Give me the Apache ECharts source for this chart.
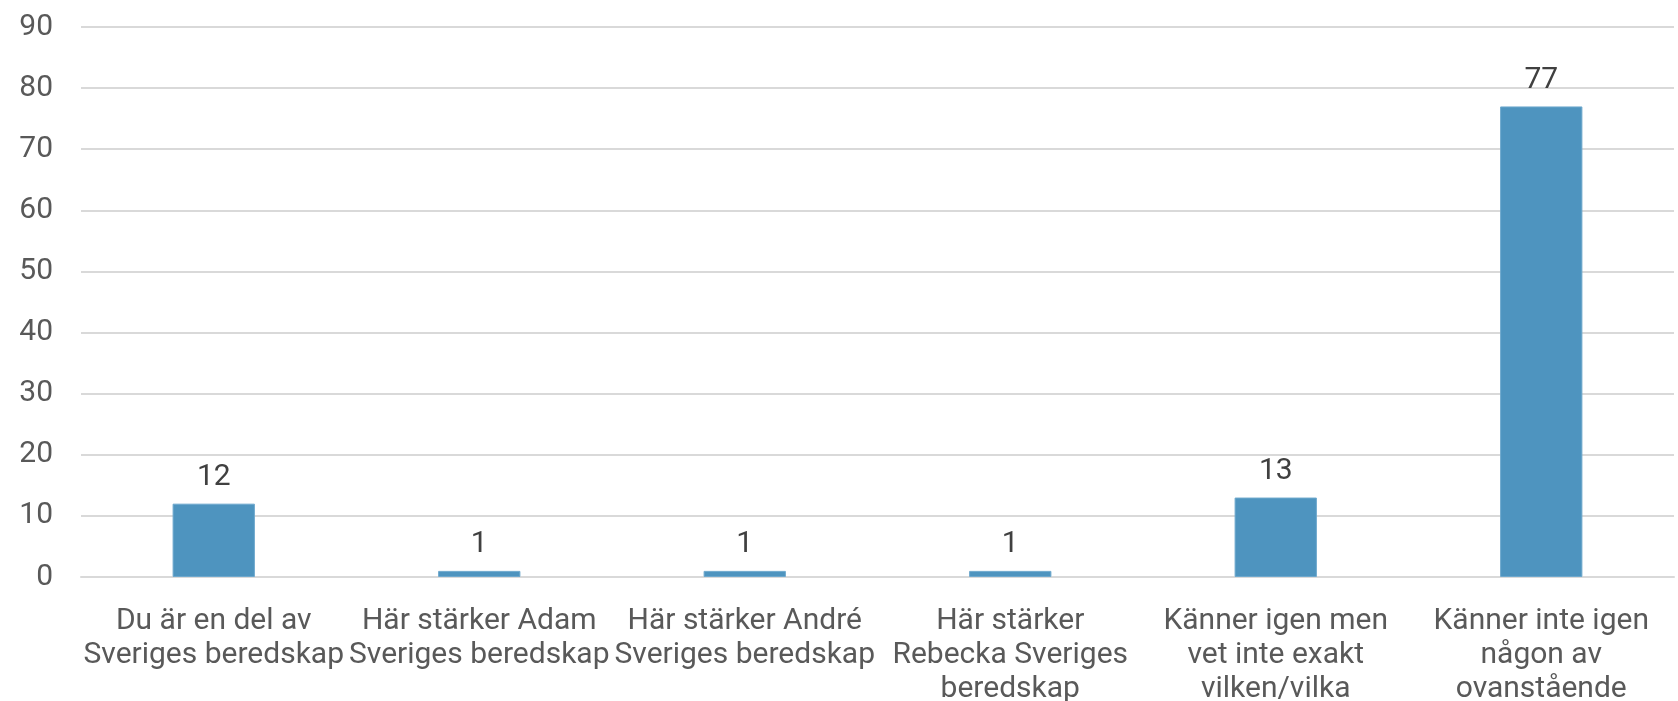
<!DOCTYPE html>
<html>
<head>
<meta charset="utf-8">
<script src="https://cdn.jsdelivr.net/npm/echarts@6/dist/echarts.min.js"></script>
<style>
  html, body { margin: 0; padding: 0; background: #ffffff; overflow: hidden; }
  #chart { width: 1678px; height: 701px; }
</style>
</head>
<body>
<div id="chart"></div>
<script>
// Category labels (line breaks as wrapped under each bar)
const categories = [
  'Du är en del av\nSveriges beredskap',
  'Här stärker Adam\nSveriges beredskap',
  'Här stärker André\nSveriges beredskap',
  'Här stärker\nRebecka Sveriges\nberedskap',
  'Känner igen men\nvet inte exakt\nvilken/vilka',
  'Känner inte igen\nnågon av\novanstående'
];

// Number of answers per option
const values = [12, 1, 1, 1, 13, 77];

// Value axis range
const yMin = 0;
const yMax = 90;
const yStep = 10;

const FONT = 'Roboto, "Liberation Sans", sans-serif';

const chart = echarts.init(document.getElementById('chart'), null, { renderer: 'canvas' });

chart.setOption({
  animation: false,
  backgroundColor: '#ffffff',
  grid: {
    left: 81, right: 4, top: 27, bottom: 124,
    containLabel: false,
    outerBoundsMode: 'none'
  },
  xAxis: {
    type: 'category',
    data: categories,
    axisLine: { show: true, lineStyle: { color: '#d9d9d9', width: 2 } },
    axisTick: { show: false },
    axisLabel: {
      interval: 0,
      hideOverlap: false,
      margin: 27,
      color: '#595959',
      fontFamily: FONT,
      fontSize: 30,
      lineHeight: 34
    }
  },
  yAxis: {
    type: 'value',
    min: yMin,
    max: yMax,
    interval: yStep,
    axisLine: { show: false },
    axisTick: { show: false },
    splitLine: { lineStyle: { color: '#d9d9d9', width: 2 } },
    axisLabel: {
      margin: 28,
      color: '#595959',
      fontFamily: FONT,
      fontSize: 30
    }
  },
  series: [{
    type: 'bar',
    data: values,
    barWidth: '31%',
    itemStyle: { color: '#4e94bf', borderColor: '#6ea8cd', borderWidth: 1 },
    label: {
      show: true,
      position: 'top',
      distance: 11,
      color: '#404040',
      fontFamily: FONT,
      fontSize: 30
    }
  }]
});
</script>
</body>
</html>
